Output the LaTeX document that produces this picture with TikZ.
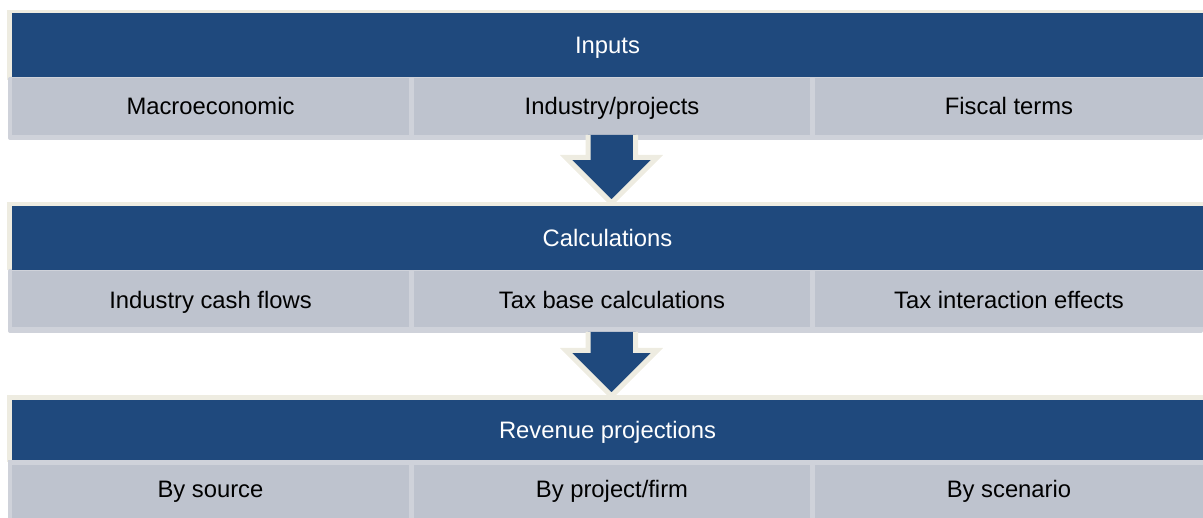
\documentclass[tikz,border=0pt]{standalone}
\usepackage{fontspec}
\setmainfont{Liberation Sans}
\definecolor{dblue}{HTML}{1F497D}
\definecolor{cellgrey}{HTML}{BEC3CE}
\definecolor{lightgrey}{HTML}{CFD2DA}
\definecolor{cream}{HTML}{EEECE1}
\tikzset{
  header/.style={fill=dblue},
  cell/.style={fill=cellgrey},
  htext/.style={text=white,font=\fontsize{23.8}{28}\selectfont,inner sep=0pt,anchor=base},
  ctext/.style={text=black,font=\fontsize{23.8}{28}\selectfont,inner sep=0pt,anchor=base}
}
\begin{document}
\begin{tikzpicture}[x=1pt,y=-1pt]
\useasboundingbox (0,0) rectangle (1203,518);
% ---------- section 1 ----------
\fill[cream] (7,10) rectangle (1203,80);
\fill[lightgrey,rounded corners=2pt] (8,77) rectangle (1203,140);
\fill[header] (12,13) rectangle (1203,77);
\fill[cell] (12,78) rectangle (409,135);
\fill[cell] (414,78) rectangle (810,135);
\fill[cell] (815,78) rectangle (1203,135);
\node[htext] (inputs) at (607.5,53.5) {Inputs};
\node[ctext] (macro) at (210.5,115) {Macroeconomic};
\node[ctext] (indproj) at (612,115) {Industry/projects};
\node[ctext] (fiscal) at (1009,115) {Fiscal terms};
% ---------- arrow 1 ----------
\fill[dblue] (588,135) -- (588,157.5) -- (566,157.5) -- (611.5,203) -- (657,157.5) -- (635.5,157.5) -- (635.5,135) -- cycle;
\draw[draw=cream,line width=5pt,line join=miter] (588,135) -- (588,157.5) -- (566,157.5) -- (611.5,203) -- (657,157.5) -- (635.5,157.5) -- (635.5,135);
% ---------- section 2 ----------
\fill[cream] (7,202) rectangle (1203,270);
\fill[lightgrey,rounded corners=2pt] (8,269) rectangle (1203,333);
\fill[header] (12,206) rectangle (1203,270);
\fill[cell] (12,271) rectangle (409,327);
\fill[cell] (414,271) rectangle (810,327);
\fill[cell] (815,271) rectangle (1203,327);
\node[htext] (calc) at (607.5,246.5) {Calculations};
\node[ctext] (cash) at (210.5,308.5) {Industry cash flows};
\node[ctext] (taxbase) at (612,308.5) {Tax base calculations};
\node[ctext] (taxint) at (1009,308.5) {Tax interaction effects};
% ---------- arrow 2 ----------
\fill[dblue] (588,332) -- (588,350.5) -- (566,350.5) -- (611.5,396) -- (657,350.5) -- (635.5,350.5) -- (635.5,332) -- cycle;
\draw[draw=cream,line width=5pt,line join=miter] (588,332) -- (588,350.5) -- (566,350.5) -- (611.5,396) -- (657,350.5) -- (635.5,350.5) -- (635.5,332);
% ---------- section 3 ----------
\fill[cream] (7,395) rectangle (1203,462);
\fill[lightgrey] (8,460) rectangle (1203,518);
\fill[header] (12,400) rectangle (1203,460);
\fill[cell] (12,465) rectangle (409,518);
\fill[cell] (414,465) rectangle (810,518);
\fill[cell] (815,465) rectangle (1203,518);
\node[htext] (rev) at (607.5,438.5) {Revenue projections};
\node[ctext] (src) at (210.5,497.5) {By source};
\node[ctext] (proj) at (612,497.5) {By project/firm};
\node[ctext] (scen) at (1009,497.5) {By scenario};
\end{tikzpicture}
\end{document}
